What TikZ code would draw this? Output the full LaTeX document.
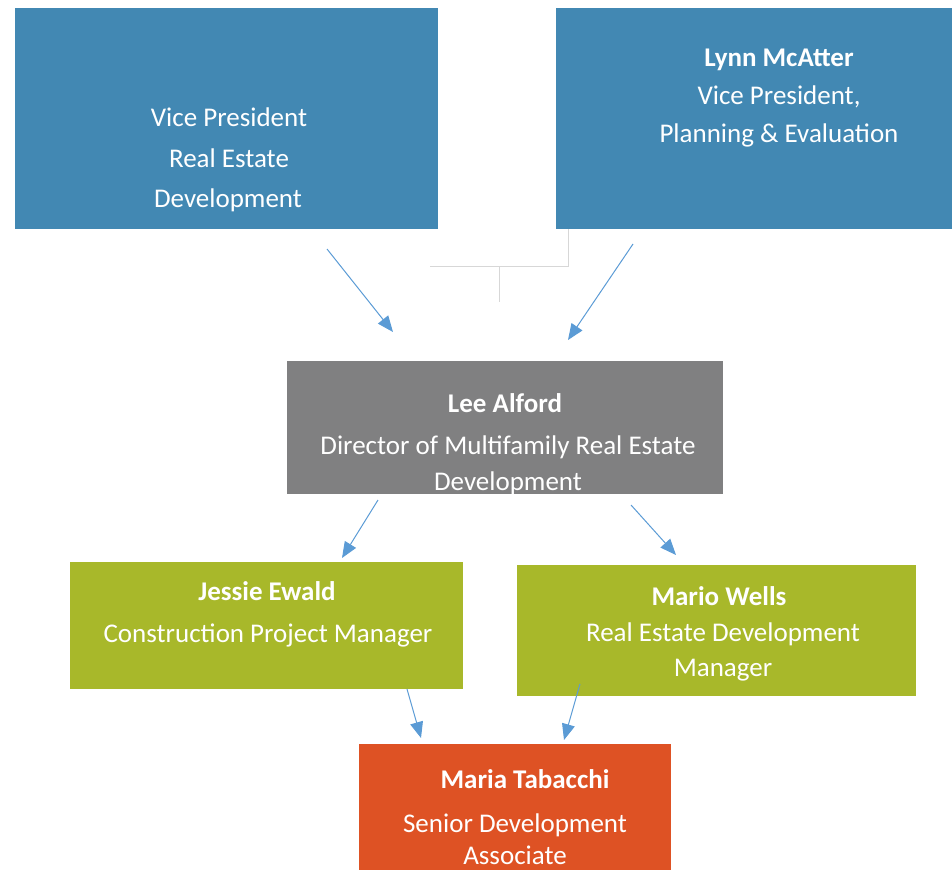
\documentclass[tikz,border=0pt]{standalone}
\usepackage{fontspec}
\setmainfont{Carlito}
\usetikzlibrary{arrows.meta}
\definecolor{vpblue}{RGB}{66,136,179}
\definecolor{dirgray}{RGB}{128,128,129}
\definecolor{mgrgreen}{RGB}{168,184,42}
\definecolor{assocorange}{RGB}{222,82,36}
\definecolor{arrowblue}{RGB}{91,155,213}
\definecolor{faintgray}{RGB}{215,215,215}
\tikzset{
  box/.style={draw=none, rectangle, anchor=north west, inner sep=0pt, outer sep=0pt},
  txt/.style={text=white, anchor=base, inner sep=0pt, font=\fontsize{27}{32}\selectfont},
  btxt/.style={txt, font=\fontsize{27}{32}\selectfont\bfseries},
  arr/.style={draw=arrowblue, line width=1pt, -{Triangle[length=16pt,width=13pt]}},
  faint/.style={draw=faintgray, line width=0.8pt}
}
\begin{document}
\begin{tikzpicture}[x=1pt,y=-1pt]
\useasboundingbox (0,0) rectangle (952,870);
% boxes
\node[box, fill=vpblue, minimum width=423pt, minimum height=221pt] (vpl) at (15,8) {};
\node[box, fill=vpblue, minimum width=396pt, minimum height=221pt] (vpr) at (556,8) {};
\node[box, fill=dirgray, minimum width=436pt, minimum height=133pt] (dir) at (287,361) {};
\node[box, fill=mgrgreen, minimum width=393pt, minimum height=127pt] (cpm) at (70,562) {};
\node[box, fill=mgrgreen, minimum width=399pt, minimum height=131pt] (rdm) at (517,565) {};
\node[box, fill=assocorange, minimum width=312pt, minimum height=126pt] (sda) at (359,744) {};
% texts
\node[txt] (vpl1) at (229,126) {Vice President};
\node[txt] (vpl2) at (229,167) {Real Estate};
\node[txt] (vpl3) at (228,207) {Development};
\node[btxt] (vpr1) at (779,66) {Lynn McAtter};
\node[txt] (vpr2) at (779,104) {Vice President,};
\node[txt] (vpr3) at (779,142) {Planning \& Evaluation};
\node[btxt] (dir1) at (505,412) {Lee Alford};
\node[txt] (dir2) at (508,454) {Director of Multifamily Real Estate};
\node[txt] (dir3) at (508,490) {Development};
\node[btxt] (cpm1) at (267,600) {Jessie Ewald};
\node[txt] (cpm2) at (268,642) {Construction Project Manager};
\node[btxt] (rdm1) at (719,605) {Mario Wells};
\node[txt] (rdm2) at (723,641) {Real Estate Development};
\node[txt] (rdm3) at (723,676) {Manager};
\node[btxt] (sda1) at (525,788) {Maria Tabacchi};
\node[txt] (sda2) at (515,832) {Senior Development};
\node[txt] (sda3) at (515,864) {Associate};
% faint connector remnants
\coordinate (f1) at (430,266);
\coordinate (f2) at (568,266);
\coordinate (f3) at (568,229);
\coordinate (f4) at (499,266);
\coordinate (f5) at (499,302);
\draw[faint] (f1) -- (f2) -- (f3);
\draw[faint] (f4) -- (f5);
% arrows
\coordinate (a1s) at (327,249); \coordinate (a1e) at (393,332);
\coordinate (a2s) at (633,244); \coordinate (a2e) at (568,340);
\coordinate (a3s) at (378,500); \coordinate (a3e) at (342,558);
\coordinate (a4s) at (631,505); \coordinate (a4e) at (676,555);
\coordinate (a5s) at (407,689); \coordinate (a5e) at (421,738);
\coordinate (a6s) at (580,684); \coordinate (a6e) at (564,740);
\draw[arr] (a1s) -- (a1e);
\draw[arr] (a2s) -- (a2e);
\draw[arr] (a3s) -- (a3e);
\draw[arr] (a4s) -- (a4e);
\draw[arr] (a5s) -- (a5e);
\draw[arr] (a6s) -- (a6e);
\end{tikzpicture}
\end{document}
